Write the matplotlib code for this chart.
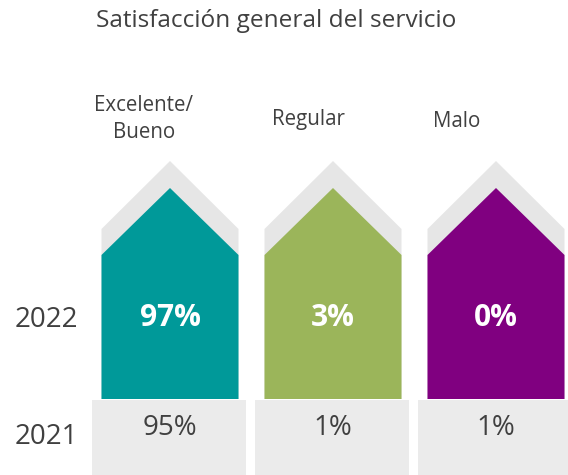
import matplotlib
matplotlib.use("Agg")
import matplotlib.pyplot as plt
from matplotlib.patches import Polygon, Rectangle

# Data
categories = [["Excelente/", "Bueno"], ["Regular"], ["Malo"]]
values_2022 = [97, 3, 0]
values_2021 = [95, 1, 1]
years = ["2022", "2021"]
colors = ["#009999", "#9BB55A", "#800080"]

plt.rcParams['font.family'] = ['Open Sans', 'DejaVu Sans']
txt = "#404040"

fig = plt.figure(figsize=(5.68, 4.75), dpi=100)
ax = fig.add_axes([0, 0, 1, 1])
ax.set_xlim(0, 568)
ax.set_ylim(475, 0)
ax.axis("off")

# layout (pixels)
x0, step, hw = 170, 163, 68.5
label_x = [144, 308, 457]
label_y = [[111, 138], [125], [127]]
for i, (cat, v22, v21, c) in enumerate(zip(categories, values_2022, values_2021, colors)):
    cx = x0 + i * step
    # grey arrow behind
    ax.add_patch(Polygon([(cx - hw, 399), (cx - hw, 229), (cx, 161), (cx + hw, 229), (cx + hw, 399)],
                         closed=True, facecolor="#E6E6E6", edgecolor="none"))
    # coloured arrow
    ax.add_patch(Polygon([(cx - hw, 399), (cx - hw, 255), (cx, 188), (cx + hw, 255), (cx + hw, 399)],
                         closed=True, facecolor=c, edgecolor="none"))
    ax.text(cx, 318, f"{v22}%", color="white", fontsize=21.5, fontweight="bold",
            ha="center", va="center")
    # 2021 box
    ax.add_patch(Rectangle((cx - 78, 400), 154, 80, facecolor="#EBEBEB", edgecolor="none"))
    ax.text(cx, 428, f"{v21}%", color=txt, fontsize=20, ha="center", va="center")
    # category label
    for line, ly in zip(cat, label_y[i]):
        ax.text(label_x[i], ly, line, color=txt, fontsize=14.8, ha="center", va="baseline")

ax.text(46, 320, years[0], color=txt, fontsize=20, ha="center", va="center")
ax.text(46, 437, years[1], color=txt, fontsize=20, ha="center", va="center")

ax.text(276.5, 27, "Satisfacción general del servicio", color=txt, fontsize=17.6,
        ha="center", va="baseline")

fig.savefig("out.png", dpi=100)
